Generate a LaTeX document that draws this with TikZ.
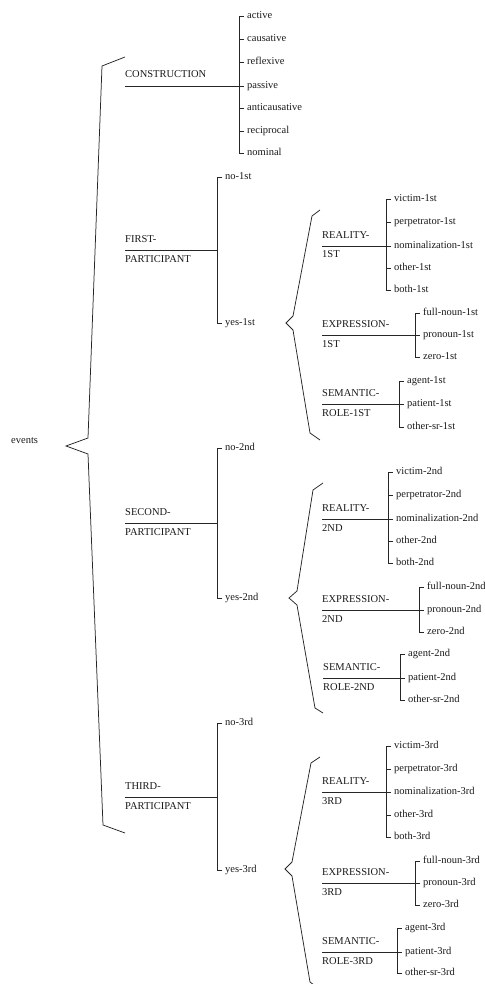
\documentclass[tikz,border=0pt]{standalone}
\usepackage{fontspec}
\setmainfont{Liberation Serif}
\tikzset{
  ln/.style={draw=black!85, line width=0.9pt},
  br/.style={draw=black!85, line width=0.75pt, line join=miter},
  lab/.style={anchor=base west, inner sep=0pt, text=black!90, font=\fontsize{10.5}{12}\selectfont},
  leaf/.style={anchor=mid west, inner sep=0pt, inner xsep=3pt, text=black!90, font=\fontsize{10.5}{12}\selectfont},
}
% #1 name, #2 label x, #3 line y, #4 bar x, #5 top text, #6 bottom text, #7 leaves y/text
\newcommand\mkcat[7]{%
  \coordinate (#1s) at (#2,#3);
  \coordinate (#1b) at (#4,#3);
  \node[lab] (#1t) at (#2,#3-8) {#5};
  \node[lab] (#1u) at (#2,#3+12) {#6};
  \draw[ln] (#1s) -- (#1b);
  \foreach \yy/\lbl [count=\k] in {#7} {
    \node[leaf] (#1-\k) at (#4+5,\yy) {\lbl};
    \draw[ln] (#1b) |- (#1-\k.mid west);
  }%
}
\begin{document}
\begin{tikzpicture}[x=1pt,y=-1pt]
\useasboundingbox (0,0) rectangle (484,984);

% root
\node[lab] (events) at (11,443) {events};
\draw[br] (125,57) -- (102,66) -- (88,438) -- (66,446) -- (88,454) -- (103,825) -- (125,833);

% CONSTRUCTION
\mkcat{con}{125}{86}{239}{CONSTRUCTION}{}{16/active,39/causative,62/reflexive,86/passive,108/anticausative,131/reciprocal,153/nominal}

% FIRST
\mkcat{fp}{125}{250}{217}{FIRST-}{PARTICIPANT}{177/no-1st,323/yes-1st}
\draw[br] (320,210) -- (312,216) -- (293,316) -- (286,323) -- (293,330) -- (310,433) -- (320,440);
\mkcat{r1}{322}{246}{386}{REALITY-}{1ST}{199/victim-1st,222/perpetrator-1st,246/nominalization-1st,268/other-1st,290/both-1st}
\mkcat{e1}{322}{335}{415}{EXPRESSION-}{1ST}{313/full-noun-1st,335/pronoun-1st,357/zero-1st}
\mkcat{s1}{322}{404}{399}{SEMANTIC-}{ROLE-1ST}{381/agent-1st,404/patient-1st,427/other-sr-1st}

% SECOND
\mkcat{sp}{125}{523}{217}{SECOND-}{PARTICIPANT}{448/no-2nd,598/yes-2nd}
\draw[br] (323,483) -- (313,490) -- (297,591) -- (289,598) -- (297,605) -- (315,708) -- (323,713);
\mkcat{r2}{322}{519}{388}{REALITY-}{2ND}{472/victim-2nd,495/perpetrator-2nd,519/nominalization-2nd,541/other-2nd,563/both-2nd}
\mkcat{e2}{322}{610}{419}{EXPRESSION-}{2ND}{587/full-noun-2nd,610/pronoun-2nd,632/zero-2nd}
\mkcat{s2}{323}{678}{400}{SEMANTIC-}{ROLE-2ND}{654/agent-2nd,678/patient-2nd,700/other-sr-2nd}

% THIRD
\mkcat{tp}{125}{797}{217}{THIRD-}{PARTICIPANT}{723/no-3rd,870/yes-3rd}
\draw[br] (320,757) -- (311,763) -- (292,862) -- (285,869) -- (292,876) -- (310,982) -- (318,988);
\mkcat{r3}{322}{792}{386}{REALITY-}{3RD}{746/victim-3rd,769/perpetrator-3rd,792/nominalization-3rd,815/other-3rd,837/both-3rd}
\mkcat{e3}{322}{883}{415}{EXPRESSION-}{3RD}{861/full-noun-3rd,883/pronoun-3rd,905/zero-3rd}
\mkcat{s3}{322}{952}{397}{SEMANTIC-}{ROLE-3RD}{928/agent-3rd,952/patient-3rd,973/other-sr-3rd}
\end{tikzpicture}
\end{document}
